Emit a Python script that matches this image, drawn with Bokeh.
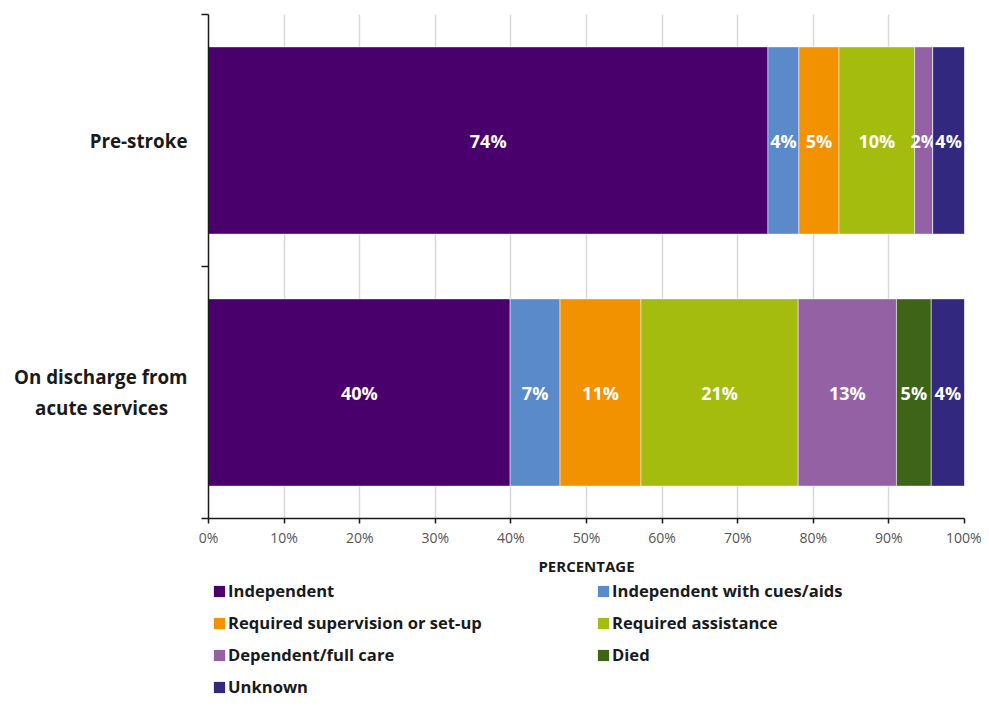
from bokeh.plotting import figure
from bokeh.layouts import column
from bokeh.models import (Range1d, FixedTicker, Legend, LegendItem, ColumnDataSource,
                          PrintfTickFormatter)
from bokeh.core.properties import value
from bokeh.embed import file_html
from bokeh.resources import INLINE

# ---- data ----
categories = ["On discharge from\nacute services", "Pre-stroke"]
series = ["Independent", "Independent with cues/aids", "Required supervision or set-up",
          "Required assistance", "Dependent/full care", "Died", "Unknown"]
colors = ["#4a006c", "#5a8ac9", "#f39200", "#a3bc0d", "#9561a5", "#3d6417", "#32287f"]
independent = [39.9, 74.0]
cues_aids = [6.6, 4.1]
supervision = [10.7, 5.3]
assistance = [20.8, 10.0]
dependent = [13.0, 2.4]
died = [4.6, 0.0]
unknown = [4.4, 4.2]
x_ticks = [0, 10, 20, 30, 40, 50, 60, 70, 80, 90, 100]

values = [independent, cues_aids, supervision, assistance, dependent, died, unknown]

FONT = "Open Sans"
DARK = "#1a1a1a"
W = 981

p = figure(width=W, height=578, output_backend="svg", toolbar_location=None,
           x_range=Range1d(0, 100), y_range=Range1d(0, len(categories)),
           min_border_left=208, min_border_right=17, min_border_top=14, min_border_bottom=58)
p.outline_line_color = None

ys = [i + 0.5 for i in range(len(categories))]
sources = []
left = [0.0] * len(categories)
for name, vals, col in zip(series, values, colors):
    right = [l + v for l, v in zip(left, vals)]
    src = ColumnDataSource(dict(y=ys, left=left, right=right))
    sources.append(src)
    p.hbar(y="y", left="left", right="right", height=0.743, source=src,
           fill_color=col, line_color="white", line_alpha=0.5, line_width=1)
    keep = [i for i, v in enumerate(vals) if v > 0]
    tsrc = ColumnDataSource(dict(
        x=[(left[i] + right[i]) / 2 for i in keep],
        y=[ys[i] for i in keep],
        t=[f"{round(vals[i])}%" for i in keep]))
    p.text(x="x", y="y", text="t", source=tsrc, text_color="white",
           text_font=value(FONT), text_font_style="bold", text_font_size="18px",
           text_align="center", text_baseline="middle")
    left = right

# x axis
p.xaxis.ticker = FixedTicker(ticks=x_ticks, minor_ticks=[])
p.xaxis.formatter = PrintfTickFormatter(format="%d%%")
p.xaxis.axis_label = "PERCENTAGE"
p.xaxis.axis_label_text_font = FONT
p.xaxis.axis_label_text_font_style = "bold"
p.xaxis.axis_label_text_font_size = "15px"
p.xaxis.axis_label_text_color = DARK
p.xaxis.axis_label_standoff = 6
p.xaxis.major_label_text_font = FONT
p.xaxis.major_label_text_font_size = "14px"
p.xaxis.major_label_text_color = "#555555"
p.xaxis.major_label_standoff = 4
p.xaxis.major_tick_out = 5
p.xaxis.major_tick_in = 0
p.xaxis.axis_line_color = DARK
p.xaxis.axis_line_width = 1.5
p.xaxis.major_tick_line_color = DARK
p.xaxis.major_tick_line_width = 1.5

# y axis (category names centred on bars, ticks on category boundaries)
labels = {}
for i, c in enumerate(categories):
    lines = c.split("\n")
    if len(lines) > 1:
        lines = [lines[0]] + [ln + "\u00a0" * 4 for ln in lines[1:]]
    labels[ys[i]] = "\n".join(lines)
p.yaxis.ticker = FixedTicker(ticks=ys, minor_ticks=[0, 1, 2])
p.yaxis.major_label_overrides = labels
p.yaxis.major_tick_out = 0
p.yaxis.major_tick_in = 0
p.yaxis.minor_tick_out = 7
p.yaxis.minor_tick_in = 0
p.yaxis.minor_tick_line_color = DARK
p.yaxis.minor_tick_line_width = 1.5
p.yaxis.axis_line_color = DARK
p.yaxis.axis_line_width = 1.5
p.yaxis.major_label_standoff = 14
p.yaxis.major_label_text_font = FONT
p.yaxis.major_label_text_font_style = "bold"
p.yaxis.major_label_text_font_size = "18.8px"
p.yaxis.major_label_text_color = DARK

# grid
p.xgrid.ticker = FixedTicker(ticks=x_ticks)
p.xgrid.grid_line_color = "#d9d9d9"
p.xgrid.grid_line_width = 1.5
p.ygrid.grid_line_color = None

# legend strip below the chart, two columns (frames are aligned with the chart)
q = figure(width=W, height=120, output_backend="svg", toolbar_location=None,
           x_range=Range1d(0, 100), y_range=Range1d(10, 11),
           x_axis_location=None, y_axis_location=None,
           min_border_left=0, min_border_right=0, min_border_top=0, min_border_bottom=0)
q.outline_line_color = None
q.xgrid.grid_line_color = None
q.ygrid.grid_line_color = None
items = []
for name, col, src in zip(series, colors, sources):
    r = q.hbar(y="y", left="left", right="right", height=0.743, source=src,
               fill_color=col, line_color=None)
    items.append(LegendItem(label=name, renderers=[r]))

leg = Legend(items=items, location=(4, 0), orientation="horizontal", ncols=2)
leg.glyph_width = 14
leg.glyph_height = 14
leg.label_standoff = 2
leg.label_height = 18
leg.label_width = 359
leg.spacing = 9
leg.padding = 0
leg.margin = 0
leg.border_line_color = None
leg.background_fill_alpha = 0
leg.label_text_font = FONT
leg.label_text_font_style = "bold"
leg.label_text_font_size = "16.6px"
leg.label_text_color = DARK
q.add_layout(leg)

open("out.html", "w").write(file_html(column(p, q, spacing=0), INLINE))
